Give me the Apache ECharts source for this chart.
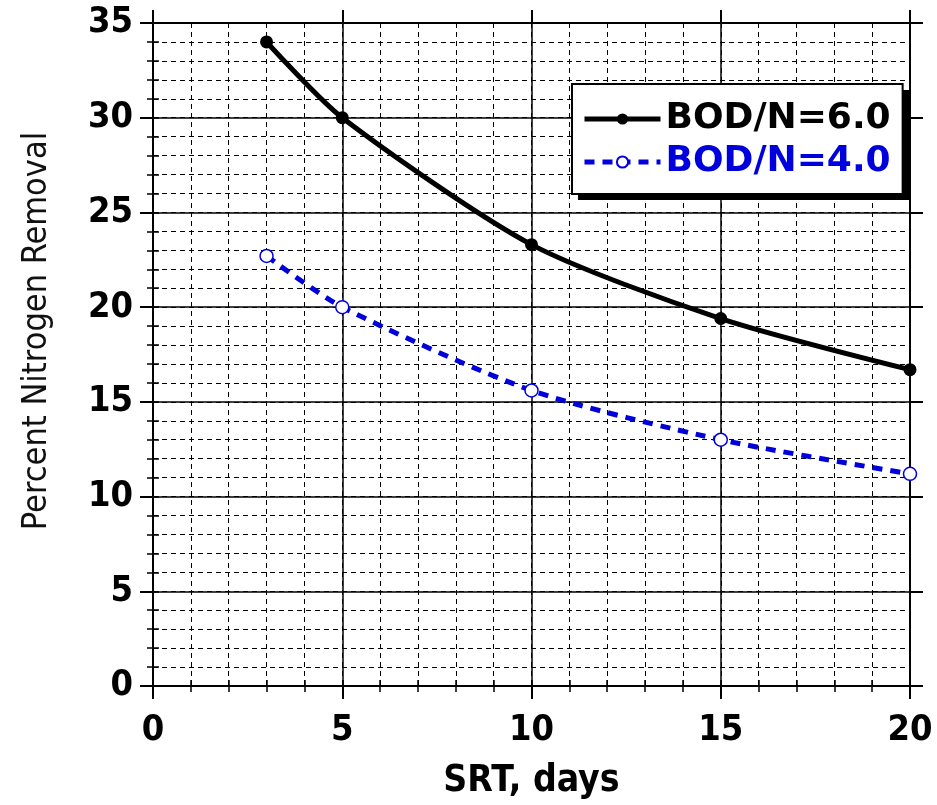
<!DOCTYPE html>
<html>
<head>
<meta charset="utf-8">
<script src="https://cdn.jsdelivr.net/npm/echarts@6/dist/echarts.min.js"></script>
<style>
html,body{margin:0;padding:0;background:#fff;}
#chart{width:937px;height:805px;}
</style>
</head>
<body>
<div id="chart"></div>
<script>
const srt = [3, 5, 10, 15, 20];
const bod6 = [34.0, 30.0, 23.3, 19.4, 16.7];
const bod4 = [22.7, 20.0, 15.6, 13.0, 11.2];
const seriesNames = ['BOD/N=6.0', 'BOD/N=4.0'];
const xTitle = 'SRT, days';
const yTitle = 'Percent Nitrogen Removal';

const FONT = '"DejaVu Sans Condensed", "DejaVu Sans", sans-serif';
const LFONT = '"DejaVu Sans", sans-serif';
const BLUE = '#0000dd';

function pairs(xs, ys) { return xs.map((x, i) => [x, ys[i]]); }

const mainX = (pos, labels) => ({
  type: 'value', position: pos, min: 0, max: 20, interval: 5,
  gridIndex: 0,
  axisLine: { show: true, onZero: false, lineStyle: { color: '#000', width: 2 } },
  axisTick: { show: true, inside: false, length: 13, lineStyle: { color: '#000', width: 2 } },
  axisLabel: { show: labels, margin: 27, color: '#000', fontSize: 36, fontWeight: 'bold', fontFamily: FONT },
  splitLine: { show: labels, lineStyle: { color: '#000', width: 1.5 } },
  name: labels ? xTitle : '', nameLocation: 'middle', nameGap: 77,
  nameTextStyle: { color: '#000', fontSize: 37, fontWeight: 'bold', fontFamily: FONT }
});
const minorX = (pos, grid) => ({
  type: 'value', position: pos, min: 0, max: 20, interval: 1,
  axisLine: { show: false }, axisLabel: { show: false },
  axisTick: { show: true, inside: true, length: 6, lineStyle: { color: '#000', width: 1.5 } },
  splitLine: { show: grid, lineStyle: { color: '#000', width: 1, type: [5, 4] } }
});
const mainY = (pos, labels) => ({
  type: 'value', position: pos, min: 0, max: 35, interval: 5,
  axisLine: { show: true, onZero: false, lineStyle: { color: '#000', width: 2 } },
  axisTick: { show: true, inside: false, length: 13, lineStyle: { color: '#000', width: 2 } },
  axisLabel: { show: labels, margin: 20, color: '#000', fontSize: 36, fontWeight: 'bold', fontFamily: FONT },
  splitLine: { show: labels, lineStyle: { color: '#000', width: 1.5 } }
});
const minorY = (pos, grid) => ({
  type: 'value', position: pos, min: 0, max: 35, interval: 1,
  axisLine: { show: false }, axisLabel: { show: false },
  axisTick: { show: true, inside: true, length: 6, lineStyle: { color: '#000', width: 1.5 } },
  splitLine: { show: grid, lineStyle: { color: '#000', width: 1, type: [5, 4] } }
});

const chart = echarts.init(document.getElementById('chart'), null, { renderer: 'canvas' });
chart.setOption({
  animation: false,
  backgroundColor: '#fff',
  grid: { left: 153, right: 27, top: 23, bottom: 118, containLabel: false },
  xAxis: [mainX('bottom', true), mainX('top', false), minorX('bottom', true), minorX('top', false)],
  yAxis: [mainY('left', true), mainY('right', false), minorY('left', true), minorY('right', false)],
  legend: {
    left: 572, top: 84, orient: 'vertical', z: 20,
    itemWidth: 76, itemHeight: 14, itemGap: 7,
    padding: [17, 12, 14, 10],
    borderColor: '#000', borderWidth: 2, backgroundColor: '#fff',
    lineStyle: { width: 5 },
    textStyle: { fontSize: 36, fontWeight: 'bold', fontFamily: LFONT },
    data: [
      { name: seriesNames[0], textStyle: { color: '#000' } },
      { name: seriesNames[1], textStyle: { color: BLUE } }
    ]
  },
  graphic: [
    {
      type: 'rect', z: 15, silent: true,
      shape: { x: 578, y: 90, width: 331, height: 110 },
      style: { fill: '#000' }
    },
    {
      type: 'text', x: 37, y: 331, rotation: Math.PI / 2,
      style: { text: yTitle, fill: '#111', font: '400 34px ' + FONT, align: 'center', verticalAlign: 'middle' }
    }
  ],
  series: [
    {
      name: seriesNames[0], type: 'line', xAxisIndex: 0, yAxisIndex: 0,
      data: pairs(srt, bod6), smooth: 0.25,
      symbol: 'circle', symbolSize: 13,
      lineStyle: { color: '#000', width: 5 },
      itemStyle: { color: '#000' }, z: 5
    },
    {
      name: seriesNames[1], type: 'line', xAxisIndex: 0, yAxisIndex: 0,
      data: pairs(srt, bod4), smooth: 0.25,
      symbol: 'circle', symbolSize: 13,
      lineStyle: { color: BLUE, width: 5, type: [10, 8] },
      itemStyle: { color: '#fff', borderColor: BLUE, borderWidth: 1.5 }, z: 5
    }
  ]
});
</script>
</body>
</html>
